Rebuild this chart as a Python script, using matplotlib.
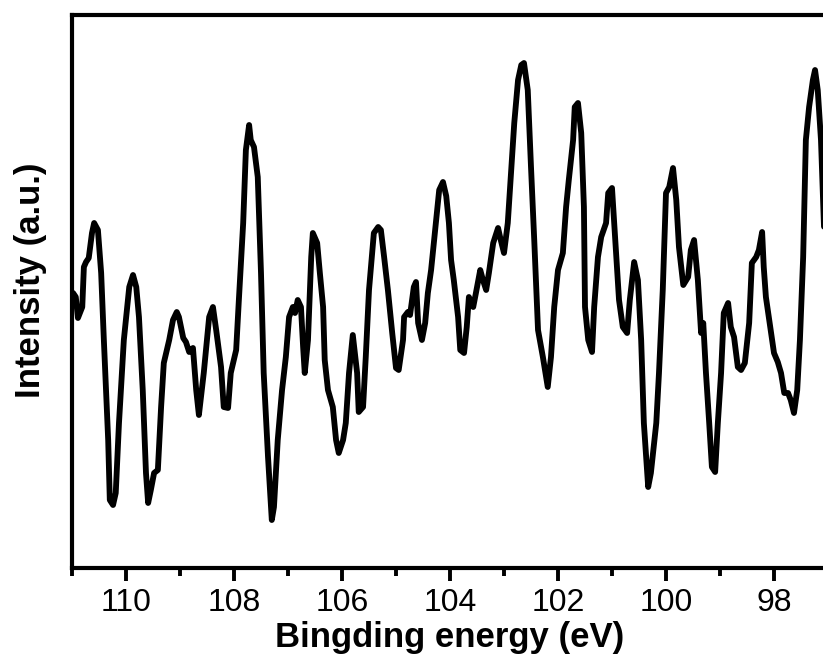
import matplotlib
matplotlib.use("Agg")
import matplotlib.pyplot as plt
from matplotlib.ticker import MultipleLocator, NullLocator

plt.rcParams['font.family'] = ['Liberation Sans', 'DejaVu Sans']

# Binding energy (eV) and intensity (a.u.) of the spectrum
energy = [
    110.98, 110.93, 110.89, 110.81, 110.78, 110.74, 110.69, 110.63, 110.59, 110.52,
    110.46, 110.41, 110.33, 110.30, 110.24, 110.19, 110.13, 110.04, 109.94, 109.87,
    109.81, 109.76, 109.69, 109.63, 109.59, 109.54, 109.48, 109.41, 109.35, 109.30,
    109.20, 109.13, 109.06, 109.02, 108.94, 108.89, 108.83, 108.76, 108.70, 108.65,
    108.56, 108.46, 108.39, 108.33, 108.24, 108.19, 108.11, 108.06, 107.96, 107.91,
    107.83, 107.78, 107.72, 107.69, 107.63, 107.56, 107.50, 107.45, 107.37, 107.30,
    107.26, 107.19, 107.11, 107.04, 106.98, 106.91, 106.87, 106.82, 106.76, 106.72,
    106.69, 106.63, 106.57, 106.54, 106.46, 106.41, 106.35, 106.32, 106.26, 106.17,
    106.11, 106.06, 105.98, 105.93, 105.87, 105.80, 105.72, 105.69, 105.61, 105.56,
    105.50, 105.41, 105.33, 105.28, 105.22, 105.15, 105.07, 105.00, 104.95, 104.87,
    104.85, 104.78, 104.74, 104.67, 104.63, 104.59, 104.52, 104.46, 104.41, 104.35,
    104.28, 104.20, 104.13, 104.07, 104.02, 103.98, 103.93, 103.85, 103.81, 103.74,
    103.69, 103.65, 103.57, 103.52, 103.44, 103.39, 103.33, 103.28, 103.20, 103.11,
    103.06, 103.00, 102.93, 102.87, 102.81, 102.74, 102.68, 102.63, 102.56, 102.50,
    102.44, 102.37, 102.28, 102.19, 102.13, 102.07, 102.00, 101.91, 101.85, 101.80,
    101.72, 101.69, 101.63, 101.57, 101.52, 101.50, 101.44, 101.37, 101.33, 101.26,
    101.20, 101.11, 101.07, 101.00, 100.94, 100.87, 100.80, 100.72, 100.67, 100.59,
    100.52, 100.46, 100.41, 100.33, 100.28, 100.18, 100.13, 100.06, 100.00, 99.94,
    99.87, 99.81, 99.76, 99.68, 99.59, 99.54, 99.48, 99.41, 99.35, 99.31,
    99.26, 99.20, 99.15, 99.09, 99.04, 98.98, 98.93, 98.85, 98.80, 98.74,
    98.67, 98.61, 98.54, 98.46, 98.41, 98.33, 98.28, 98.22, 98.19, 98.15,
    98.07, 98.00, 97.93, 97.87, 97.81, 97.74, 97.69, 97.63, 97.57, 97.52,
    97.46, 97.41, 97.35, 97.28, 97.24, 97.19, 97.13, 97.07, 97.00,
]
intensity = [
    275, 271, 250, 261, 301, 306, 310, 335, 345, 338,
    295, 228, 128, 68, 63, 75, 145, 228, 281, 293,
    281, 251, 178, 95, 65, 78, 95, 98, 161, 205,
    228, 248, 256, 251, 230, 226, 216, 220, 178, 153,
    195, 251, 261, 238, 201, 161, 160, 195, 218, 268,
    345, 418, 443, 428, 421, 391, 295, 195, 111, 48,
    61, 128, 178, 211, 251, 261, 255, 268, 261, 221,
    195, 228, 311, 335, 325, 295, 261, 208, 178, 161,
    128, 115, 128, 145, 195, 233, 195, 156, 161, 211,
    278, 335, 341, 338, 311, 278, 235, 200, 198, 228,
    251, 256, 253, 281, 286, 245, 228, 245, 275, 298,
    335, 378, 386, 372, 345, 308, 288, 251, 218, 215,
    241, 271, 261, 275, 298, 288, 278, 295, 325, 340,
    328, 315, 345, 395, 445, 488, 503, 505, 478, 401,
    328, 238, 211, 181, 211, 261, 298, 315, 361, 388,
    428, 461, 465, 435, 361, 261, 228, 216, 261, 311,
    331, 345, 375, 380, 328, 268, 241, 235, 268, 306,
    288, 228, 145, 81, 95, 145, 195, 278, 375, 381,
    400, 368, 321, 283, 291, 318, 328, 288, 235, 245,
    195, 145, 101, 96, 145, 195, 255, 265, 241, 231,
    201, 198, 205, 245, 305, 311, 318, 336, 301, 271,
    241, 215, 206, 195, 175, 175, 168, 155, 178, 228,
    311, 428, 461, 488, 498, 478, 428, 335, 250,
]

x_major = [110, 108, 106, 104, 102, 100, 98]
x_range = (111, 97)

fig = plt.figure(figsize=(8.23, 6.66), dpi=100)
# the right-hand spine sits just past the edge of the canvas
ax_px = (x_range[0] - x_range[1]) * 54
ax = fig.add_axes([72 / 823, 98 / 666, ax_px / 823, 553 / 666])

ax.plot(energy, intensity, color='black', lw=4.2, solid_joinstyle='round',
        solid_capstyle='round')

ax.set_xlim(*x_range)
ax.set_ylim(0, 553)

ax.set_xticks(x_major)
ax.set_xticklabels([str(v) for v in x_major])
ax.xaxis.set_minor_locator(MultipleLocator(1))
ax.yaxis.set_major_locator(NullLocator())

for side in ax.spines.values():
    side.set_linewidth(3.0)

ax.tick_params(axis='x', which='major', direction='out', length=9.5, width=2.8,
               labelsize=23, pad=5)
ax.tick_params(axis='x', which='minor', direction='out', length=6, width=2.8)

ax.set_xlabel('Bingding energy (eV)', fontsize=25, fontweight='bold', labelpad=2)
ax.set_ylabel('Intensity (a.u.)', fontsize=25, fontweight='bold')
ax.yaxis.set_label_coords(-25 / ax_px, 0.52)

fig.savefig('out.png', dpi=100)
